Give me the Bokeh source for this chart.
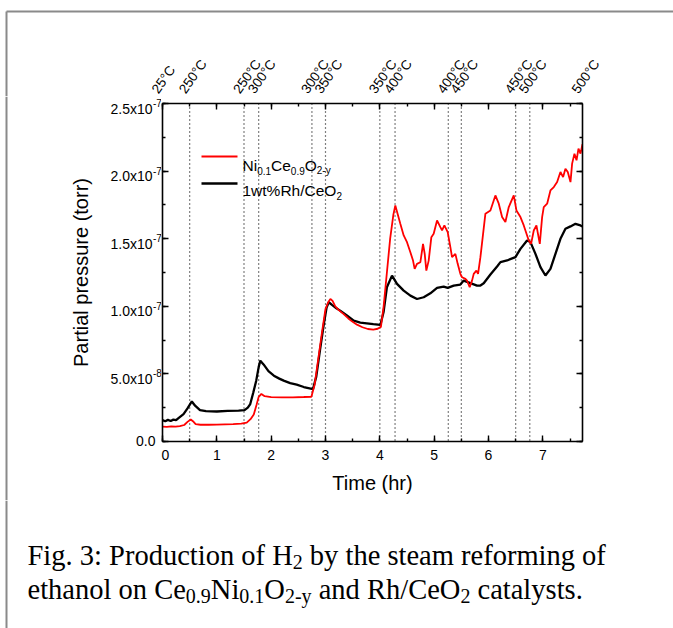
import numpy as np
from bokeh.plotting import figure
from bokeh.layouts import column, row
from bokeh.models import (Range1d, LinearAxis, SingleIntervalTicker, Span, Label,
                          LabelSet, ColumnDataSource, Arrow, CustomJSTickFormatter)
from bokeh.core.properties import value
from bokeh.embed import file_html
from bokeh.resources import INLINE

# ---------------------------------------------------------------- data
# time (hr) and partial pressure of H2 (units of 1e-7 torr)
t_ni = [0.00, 0.08, 0.16, 0.24, 0.32, 0.40, 0.46, 0.52, 0.56, 0.61, 0.70, 0.85, 1.00,
        1.15, 1.30, 1.45, 1.55, 1.62, 1.68, 1.73, 1.77, 1.82, 1.88, 2.00, 2.20, 2.40,
        2.60, 2.74, 2.80, 2.87, 2.94, 3.00, 3.05, 3.09, 3.13, 3.18, 3.25, 3.33, 3.42,
        3.50, 3.58, 3.68, 3.78, 3.88, 3.96, 4.02, 4.07, 4.13, 4.19, 4.25, 4.285, 4.377,
        4.439, 4.500, 4.562, 4.611, 4.641, 4.684, 4.746, 4.795, 4.826, 4.856, 4.899,
        4.948, 4.991, 5.053, 5.114, 5.145, 5.188, 5.249, 5.298, 5.329, 5.390, 5.433,
        5.482, 5.513, 5.575, 5.605, 5.654, 5.697, 5.728, 5.777, 5.808, 5.851, 5.943,
        6.035, 6.127, 6.189, 6.250, 6.311, 6.373, 6.465, 6.514, 6.588, 6.649, 6.741,
        6.784, 6.833, 6.882, 6.944, 6.987, 7.017, 7.079, 7.140, 7.202, 7.263, 7.324,
        7.373, 7.416, 7.459, 7.509, 7.539, 7.582, 7.620, 7.656, 7.693, 7.730]
p_ni = [0.110, 0.108, 0.112, 0.110, 0.113, 0.122, 0.145, 0.163, 0.150, 0.128, 0.124,
        0.124, 0.125, 0.127, 0.129, 0.132, 0.140, 0.165, 0.200, 0.270, 0.330, 0.352,
        0.335, 0.328, 0.326, 0.327, 0.329, 0.331, 0.420, 0.620, 0.820, 0.980, 1.030,
        1.055, 1.040, 1.000, 0.970, 0.944, 0.910, 0.885, 0.864, 0.845, 0.832, 0.828,
        0.834, 0.848, 1.000, 1.250, 1.500, 1.680, 1.746, 1.610, 1.524, 1.474, 1.400,
        1.338, 1.277, 1.314, 1.326, 1.462, 1.388, 1.264, 1.338, 1.511, 1.536, 1.635,
        1.585, 1.561, 1.598, 1.548, 1.437, 1.363, 1.388, 1.314, 1.240, 1.215, 1.203,
        1.190, 1.141, 1.190, 1.240, 1.264, 1.240, 1.363, 1.685, 1.709, 1.820, 1.759,
        1.660, 1.623, 1.734, 1.820, 1.709, 1.660, 1.598, 1.487, 1.462, 1.561, 1.598,
        1.462, 1.660, 1.734, 1.759, 1.857, 1.882, 1.919, 1.993, 1.956, 2.018, 1.993,
        1.919, 2.055, 2.129, 2.080, 2.166, 2.129, 2.200]

t_rh = [0.00, 0.05, 0.10, 0.15, 0.20, 0.25, 0.30, 0.387, 0.46, 0.54, 0.60, 0.69, 0.80,
        1.00, 1.20, 1.40, 1.51, 1.57, 1.615, 1.67, 1.725, 1.77, 1.80, 1.86, 1.95, 2.05,
        2.15, 2.23, 2.35, 2.47, 2.60, 2.77, 2.83, 2.90, 2.97, 3.02, 3.06, 3.12, 3.20,
        3.27, 3.40, 3.52, 3.64, 3.76, 3.88, 4.01, 4.07, 4.13, 4.224, 4.316, 4.439,
        4.562, 4.684, 4.807, 4.930, 5.053, 5.175, 5.249, 5.360, 5.482, 5.544, 5.666,
        5.789, 5.851, 5.912, 6.035, 6.158, 6.220, 6.342, 6.496, 6.588, 6.710, 6.772,
        6.864, 6.956, 7.048, 7.140, 7.232, 7.324, 7.416, 7.509, 7.600, 7.693, 7.730]
p_rh = [0.158, 0.150, 0.160, 0.152, 0.162, 0.158, 0.175, 0.203, 0.245, 0.296, 0.265,
        0.232, 0.224, 0.222, 0.227, 0.229, 0.232, 0.250, 0.277, 0.360, 0.450, 0.550,
        0.598, 0.570, 0.520, 0.487, 0.465, 0.450, 0.432, 0.420, 0.403, 0.388, 0.480,
        0.680, 0.870, 0.990, 1.030, 1.010, 0.985, 0.968, 0.930, 0.894, 0.880, 0.874,
        0.868, 0.862, 0.960, 1.141, 1.227, 1.166, 1.116, 1.079, 1.054, 1.067, 1.096,
        1.136, 1.146, 1.136, 1.153, 1.161, 1.190, 1.171, 1.153, 1.154, 1.170, 1.235,
        1.294, 1.327, 1.339, 1.364, 1.425, 1.487, 1.475, 1.388, 1.290, 1.228, 1.277,
        1.388, 1.499, 1.573, 1.591, 1.610, 1.598, 1.590]
P_UNIT = 1e-7

# temperature changes: positions of the dotted markers and the labels above the frame
step_times = [0.5, 1.5, 1.77, 2.75, 3.0, 4.0, 4.28, 5.26, 5.5, 6.5, 6.76]
temp_label_x = [0.0, 0.5, 1.5, 1.77, 2.75, 3.0, 4.0, 4.28, 5.26, 5.5, 6.5, 6.76, 7.73]
temp_labels = ["25°C", "250°C", "250°C", "300°C", "300°C", "350°C", "350°C", "400°C",
               "400°C", "450°C", "450°C", "500°C", "500°C"]

# y tick labels: mantissa and power of ten
y_ticks = [0.0, 0.5e-7, 1.0e-7, 1.5e-7, 2.0e-7, 2.5e-7]
y_mant = ["0.0", "5.0", "1.0", "1.5", "2.0", "2.5"]
y_exp = ["", "-8", "-7", "-7", "-7", "-7"]

X_MAX = 7.73
Y_MAX = 2.5e-7

# ---------------------------------------------------------------- page geometry
W, H = 673, 628
FRAME_L, FRAME_R, FRAME_T, FRAME_B = 162, 582, 103, 441
TOP_H = 96          # strip holding the temperature labels
LEFT_W = 161        # strip holding the y tick labels and y title
MAIN_BOTTOM = 500   # page y where the chart row ends and the caption starts
ROW_H = MAIN_BOTTOM - TOP_H
CAP_H = H - MAIN_BOTTOM
S_X = (FRAME_R - FRAME_L) / X_MAX   # px per hour
S_Y = (FRAME_B - FRAME_T) / Y_MAX   # px per torr

SANS = "Liberation Sans"
SERIF = "Liberation Serif"
EDGE = "#8a8a8a"


def hours_at(px):
    return (px - FRAME_L) / S_X


def torr_at(py):
    return (FRAME_B - py) / S_Y


def no_frame_align(f):
    if "frame_align" in f.properties():
        f.frame_align = False


def strip(width, height, x_range, y_range):
    f = figure(width=width, height=height, output_backend="svg", toolbar_location=None,
               x_range=x_range, y_range=y_range, min_border=0,
               x_axis_location=None, y_axis_location=None)
    f.xgrid.visible = False
    f.ygrid.visible = False
    f.outline_line_color = None
    f.background_fill_color = "white"
    f.border_fill_color = "white"
    no_frame_align(f)
    return f


# ---------------------------------------------------------------- main chart
p = figure(width=W - LEFT_W, height=ROW_H, output_backend="svg", toolbar_location=None,
           x_range=Range1d(0, X_MAX), y_range=Range1d(0, Y_MAX),
           min_border_left=FRAME_L - LEFT_W, min_border_right=W - FRAME_R,
           min_border_top=FRAME_T - TOP_H, min_border_bottom=MAIN_BOTTOM - FRAME_B)
p.xgrid.grid_line_color = None
p.ygrid.grid_line_color = None
p.outline_line_color = None
p.background_fill_color = "white"
p.border_fill_color = "white"
no_frame_align(p)

no_text = CustomJSTickFormatter(code="return ''")


def style_axis(ax, interval, show_labels):
    ax.ticker = SingleIntervalTicker(interval=interval, num_minor_ticks=2)
    ax.axis_line_width = 1.6
    ax.axis_line_color = "black"
    ax.major_tick_in = 6
    ax.major_tick_out = 0
    ax.minor_tick_in = 3
    ax.minor_tick_out = 0
    ax.major_tick_line_width = 1.4
    ax.minor_tick_line_width = 1.4
    ax.major_tick_line_color = "black"
    ax.minor_tick_line_color = "black"
    ax.major_label_text_font = SANS
    ax.major_label_text_font_size = "14px"
    if show_labels:
        ax.major_label_text_color = "black"
    else:
        # mirrored spines: ticks only, no tick text and no reserved space
        ax.formatter = no_text
        ax.major_label_standoff = 0
        ax.major_label_text_color = None
        ax.axis_label = None
        ax.axis_label_standoff = 0


xb = p.xaxis[0]
style_axis(xb, 1, True)
xb.major_label_standoff = 8
xb.axis_label = "Time (hr)"
xb.axis_label_text_font = SANS
xb.axis_label_text_font_size = "20px"
xb.axis_label_text_font_style = "normal"
xb.axis_label_text_color = "black"
xb.axis_label_standoff = 9

style_axis(p.yaxis[0], 5e-8, False)
xt = LinearAxis()
style_axis(xt, 1, False)
p.add_layout(xt, "above")
yr = LinearAxis()
style_axis(yr, 5e-8, False)
p.add_layout(yr, "right")

# dotted markers at each temperature step
for tx in step_times:
    p.add_layout(Span(location=tx, dimension="height", line_color="black",
                      line_dash="1 3", line_width=1.2, level="underlay"))

# curves
p.line(t_rh, np.array(p_rh) * P_UNIT, line_color="black", line_width=2.3)
p.line(t_ni, np.array(p_ni) * P_UNIT, line_color="#ff0000", line_width=1.8)

# ---------------------------------------------------------------- rich text helper
SANS_W = {" ": 278, ".": 278, "%": 889, "-": 333, "/": 278, "C": 722, "N": 722,
          "O": 778, "R": 722, "e": 556, "h": 556, "i": 222, "t": 278, "w": 722,
          "y": 500}
SERIF_W = {" ": 250, ".": 250, ":": 278, ",": 250, "-": 333, "/": 278, "C": 667,
           "F": 556, "H": 722, "N": 722, "O": 722, "P": 556, "R": 667, "a": 444,
           "b": 500, "c": 444, "d": 500, "e": 444, "f": 333, "g": 500, "h": 500,
           "i": 278, "l": 278, "m": 778, "n": 500, "o": 500, "r": 333, "s": 389,
           "t": 278, "u": 500, "y": 500}


def adv(s, size, table):
    digit = 556 if table is SANS_W else 500
    return sum(table.get(c, digit) for c in s) * size / 1000.0


def rich_text(fig, x, y, parts, font, size, sub_size, sub_drop, table, units):
    """Text runs on one baseline; subscript runs are smaller and lowered."""
    for s, sub in parts:
        fs = sub_size if sub else size
        x += adv(" " * (len(s) - len(s.lstrip(" "))), fs, table)
        core = s.strip(" ")
        fig.add_layout(Label(x=x, y=y + (sub_drop if sub else 0), x_units=units,
                             y_units=units, text=core, text_font=font,
                             text_font_size=f"{fs}px", text_color="black",
                             text_align="left", text_baseline="alphabetic"))
        x += adv(core, fs, table)
        x += adv(" " * (len(s) - len(s.rstrip(" "))), fs, table)


# legend (screen units measured from the frame's lower-left corner)
legend_rows = [
    ("#ff0000", 1.8, 156, 165, [("Ni", False), ("0.1", True), ("Ce", False),
                                ("0.9", True), ("O", False), ("2-y", True)]),
    ("black", 2.3, 183, 190, [("1wt%Rh/CeO", False), ("2", True)]),
]
for color, lw, line_y, base_y, parts in legend_rows:
    p.add_layout(Arrow(end=None, x_start=201 - FRAME_L, y_start=FRAME_B - line_y,
                       x_end=237 - FRAME_L, y_end=FRAME_B - line_y,
                       start_units="screen", end_units="screen",
                       line_color=color, line_width=lw))
    rich_text(p, 242 - FRAME_L, FRAME_B - base_y, parts, SANS, 15.5, 10, -5, SANS_W,
              "screen")

# ---------------------------------------------------------------- top strip
top = strip(W, TOP_H, Range1d(hours_at(0), hours_at(W)), Range1d(TOP_H, 0))
temp_src = ColumnDataSource(dict(x=temp_label_x, y=[TOP_H - 2] * len(temp_label_x),
                                 text=temp_labels))
top.add_layout(LabelSet(x="x", y="y", text="text", source=temp_src, angle=55,
                        angle_units="deg", x_offset=-4, text_font=value(SANS),
                        text_font_size="13.5px", text_color="black",
                        text_align="left", text_baseline="alphabetic"))
top.segment(x0=[hours_at(6)], y0=[11], x1=[hours_at(W + 5)], y1=[11],
            line_color=EDGE, line_width=2)
top.segment(x0=[hours_at(6)], y0=[11], x1=[hours_at(6)], y1=[TOP_H + 5],
            line_color=EDGE, line_width=2)

# ---------------------------------------------------------------- left strip
left = strip(LEFT_W, ROW_H, Range1d(0, LEFT_W),
             Range1d(torr_at(MAIN_BOTTOM), torr_at(TOP_H)))
pow_idx = [i for i, e in enumerate(y_exp) if e]
base_src = ColumnDataSource(dict(x=[152] * len(pow_idx),
                                 y=[y_ticks[i] for i in pow_idx],
                                 text=[y_mant[i] + "x10" for i in pow_idx],
                                 sup=[y_exp[i] for i in pow_idx]))
left.add_layout(LabelSet(x="x", y="y", text="text", source=base_src, y_offset=-10,
                         text_font=value(SANS), text_font_size="14px",
                         text_color="black", text_align="right",
                         text_baseline="alphabetic"))
left.add_layout(LabelSet(x="x", y="y", text="sup", source=base_src, x_offset=0.5,
                         y_offset=-3.5, text_font=value(SANS), text_font_size="10px",
                         text_color="black", text_align="left",
                         text_baseline="alphabetic"))
zero_idx = [i for i, e in enumerate(y_exp) if not e]
zero_src = ColumnDataSource(dict(x=[155] * len(zero_idx),
                                 y=[y_ticks[i] for i in zero_idx],
                                 text=[y_mant[i] for i in zero_idx]))
left.add_layout(LabelSet(x="x", y="y", text="text", source=zero_src, y_offset=-4.5,
                         text_font=value(SANS), text_font_size="14px",
                         text_color="black", text_align="right",
                         text_baseline="alphabetic"))
left.add_layout(Label(x=80, y=Y_MAX / 2, text="Partial pressure (torr)", angle=90,
                      angle_units="deg", text_font=SANS, text_font_size="20px",
                      text_color="black", text_align="center", text_baseline="middle"))
left.add_layout(Span(location=6, dimension="height", line_color=EDGE, line_width=2))

# ---------------------------------------------------------------- caption strip
cap = strip(W, CAP_H, Range1d(0, W), Range1d(CAP_H, 0))
cap.add_layout(Span(location=6, dimension="height", line_color=EDGE, line_width=2))
rich_text(cap, 27, 555 - MAIN_BOTTOM,
          [("Fig. 3: Production of H", False), ("2", True),
           (" by the steam reforming of", False)],
          SERIF, 28.5, 20, 6, SERIF_W, "data")
rich_text(cap, 27, 589 - MAIN_BOTTOM,
          [("ethanol on Ce", False), ("0.9", True), ("Ni", False), ("0.1", True),
           ("O", False), ("2-y", True), (" and Rh/CeO", False), ("2", True),
           (" catalysts.", False)],
          SERIF, 28.5, 20, 6, SERIF_W, "data")

page = column(top, row(left, p), cap)
open("out.html", "w").write(file_html(page, INLINE))
